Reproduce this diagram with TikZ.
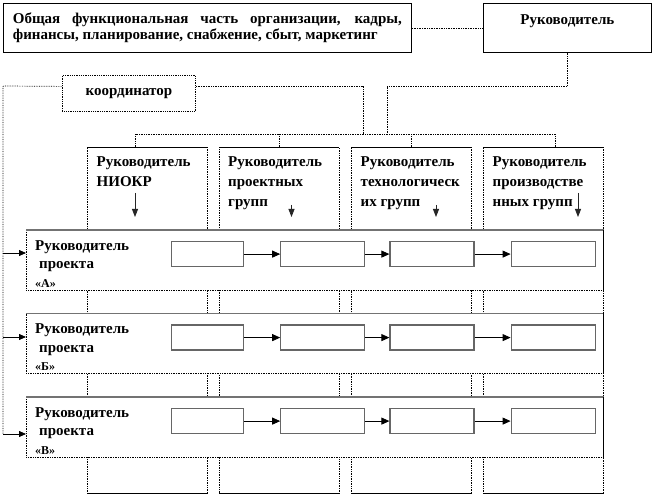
\documentclass[tikz,border=0pt]{standalone}
\usepackage{fontspec}
\setmainfont{Liberation Serif}
\usetikzlibrary{positioning,arrows.meta}

\begin{document}
\begin{tikzpicture}[x=1pt, y=-1pt,
  every node/.style={font=\bfseries\fontsize{15}{16}\selectfont, inner sep=0pt},
  topbox/.style={draw=black, line width=0.8pt, anchor=north west, minimum height=49pt},
  dotbox/.style={draw=black, densely dotted, line width=0.8pt, anchor=north west},
  colbox/.style={draw=black, densely dotted, line width=0.7pt, fill=white, anchor=north west,
    minimum width=120pt, minimum height=346pt,
    append after command={(\tikzlastnode.north west) edge[solid, line width=0.8pt] (\tikzlastnode.north east)
      (\tikzlastnode.south west) edge[solid, line width=0.8pt] (\tikzlastnode.south east)}},
  projbox/.style={draw=black, densely dotted, line width=0.7pt, fill=white, anchor=north west,
    minimum width=577pt, minimum height=60pt,
    append after command={(\tikzlastnode.north west) edge[solid, draw=black!55, line width=1.3pt] (\tikzlastnode.north east)
      (\tikzlastnode.north east) edge[solid, line width=0.7pt] (\tikzlastnode.south east)}},
  stagebox/.style={draw=black!60, line width=1.2pt, minimum height=25pt},
  coltext/.style={align=left, font=\bfseries\fontsize{15}{20}\selectfont},
  projtext/.style={align=left, font=\bfseries\fontsize{15}{18.5}\selectfont},
  dotlink/.style={densely dotted, line width=0.7pt},
  flowarrow/.style={-{Triangle[length=8pt,width=7pt]}, line width=0.8pt},
  downarrow/.style={-{Triangle[length=8pt,width=6pt]}, line width=0.9pt, black!85},
]
\useasboundingbox (0,0) rectangle (654,497);

\node[topbox, text width=389pt, inner xsep=9.5pt, align=justify] (Functions) at (3,3)
  {Общая функциональная часть организации, кадры,\linebreak финансы, планирование, снабжение, сбыт, маркетинг};
\node[topbox, minimum width=168pt, text depth=16pt] (Rukovoditel) at (483,3) {Руководитель};
\node[dotbox, minimum width=133pt, minimum height=36pt] (Koordinator) at (62,75) {координатор};

\node[colbox] (NIOKR) at (87,147) {};
\node[colbox, minimum width=119.5pt] (ProektGroups) at (219,147) {};
\node[colbox] (TechGroups) at (351,147) {};
\node[colbox] (ProdGroups) at (483,147) {};

\node[coltext, below right=9.5pt and 9.5pt of NIOKR.north west] (NIOKRText) {Руководитель\\НИОКР};
\node[coltext, below right=9.5pt and 9pt of ProektGroups.north west] (ProektText) {Руководитель\\проектных\\групп};
\node[coltext, below right=9.5pt and 9.5pt of TechGroups.north west] (TechText) {Руководитель\\технологическ\\их групп};
\node[coltext, below right=9.5pt and 9.5pt of ProdGroups.north west] (ProdText) {Руководитель\\производстве\\нных групп};

\coordinate (NIOKRFrom) at (135,193);   \coordinate (NIOKRTo) at (135,217);
\coordinate (ProektFrom) at (291.5,205); \coordinate (ProektTo) at (291.5,217);
\coordinate (TechFrom) at (436,205);    \coordinate (TechTo) at (436,217);
\coordinate (ProdFrom) at (578,193);    \coordinate (ProdTo) at (578,217);
\draw[downarrow] (NIOKRFrom) -- (NIOKRTo);
\draw[downarrow] (ProektFrom) -- (ProektTo);
\draw[downarrow] (TechFrom) -- (TechTo);
\draw[downarrow] (ProdFrom) -- (ProdTo);

\node[projbox] (ProjectA) at (26,230) {};
\node[projbox] (ProjectB) at (26,313.5) {};
\node[projbox] (ProjectV) at (26,397) {};

\node[projtext, below right=10pt and 9pt of ProjectA.north west] (ProjectAText)
  {Руководитель\\\hspace*{4pt}проекта\\{\fontsize{12}{12}\selectfont «А»}};
\node[projtext, below right=10pt and 9pt of ProjectB.north west] (ProjectBText)
  {Руководитель\\\hspace*{4pt}проекта\\{\fontsize{12}{12}\selectfont «Б»}};
\node[projtext, below right=10pt and 9pt of ProjectV.north west] (ProjectVText)
  {Руководитель\\\hspace*{4pt}проекта\\{\fontsize{12}{12}\selectfont «В»}};

\node[stagebox, minimum width=72pt, below right=11pt and 145pt of ProjectA.north west] (A1) {};
\node[stagebox, minimum width=84pt, right=36pt of A1] (A2) {};
\node[stagebox, minimum width=84pt, right=24pt of A2] (A3) {};
\node[stagebox, minimum width=84pt, right=36pt of A3] (A4) {};
\node[stagebox, minimum width=72pt, below right=11pt and 145pt of ProjectB.north west] (B1) {};
\node[stagebox, minimum width=84pt, right=36pt of B1] (B2) {};
\node[stagebox, minimum width=84pt, right=24pt of B2] (B3) {};
\node[stagebox, minimum width=84pt, right=36pt of B3] (B4) {};
\node[stagebox, minimum width=72pt, below right=11pt and 145pt of ProjectV.north west] (V1) {};
\node[stagebox, minimum width=84pt, right=36pt of V1] (V2) {};
\node[stagebox, minimum width=84pt, right=24pt of V2] (V3) {};
\node[stagebox, minimum width=84pt, right=36pt of V3] (V4) {};

\draw[flowarrow] (A1) -- (A2);
\draw[flowarrow] (A2) -- (A3);
\draw[flowarrow] (A3) -- (A4);
\draw[flowarrow] (B1) -- (B2);
\draw[flowarrow] (B2) -- (B3);
\draw[flowarrow] (B3) -- (B4);
\draw[flowarrow] (V1) -- (V2);
\draw[flowarrow] (V2) -- (V3);
\draw[flowarrow] (V3) -- (V4);

\coordinate (KoordCorner) at (3,86);
\coordinate (ToA) at (3,253);
\coordinate (ToB) at (3,337);
\coordinate (ToV) at (3,434);
\draw[dotlink] ([yshift=7pt]Koordinator.west) -- (KoordCorner) -- (ToV);
\draw[flowarrow, -{Triangle[length=7pt,width=6pt]}] (ToA) -- (ToA -| ProjectA.west);
\draw[flowarrow, -{Triangle[length=7pt,width=6pt]}] (ToB) -- (ToB -| ProjectB.west);
\draw[flowarrow, -{Triangle[length=7pt,width=6pt]}] (ToV) -- (ToV -| ProjectV.west);

\coordinate (BusLeft) at (135,134);
\coordinate (BusRight) at (555,134);
\coordinate (BusKoord) at (363,134);
\coordinate (BusRuk) at (387,134);
\coordinate (RukCorner) at (387,86);
\draw[dotlink] (Functions) -- (Rukovoditel);
\draw[dotlink] ([yshift=7pt]Koordinator.east) -| (BusKoord);
\draw[dotlink] (Rukovoditel.south) |- (RukCorner) -- (BusRuk);
\draw[dotlink] (NIOKR.north -| BusLeft) -- (BusLeft) -- (BusRight) -- (ProdGroups.north -| BusRight);
\draw[dotlink] (ProektGroups.north) -- (ProektGroups.north |- BusLeft);
\draw[dotlink] (TechGroups.north) -- (TechGroups.north |- BusLeft);
\end{tikzpicture}
\end{document}
